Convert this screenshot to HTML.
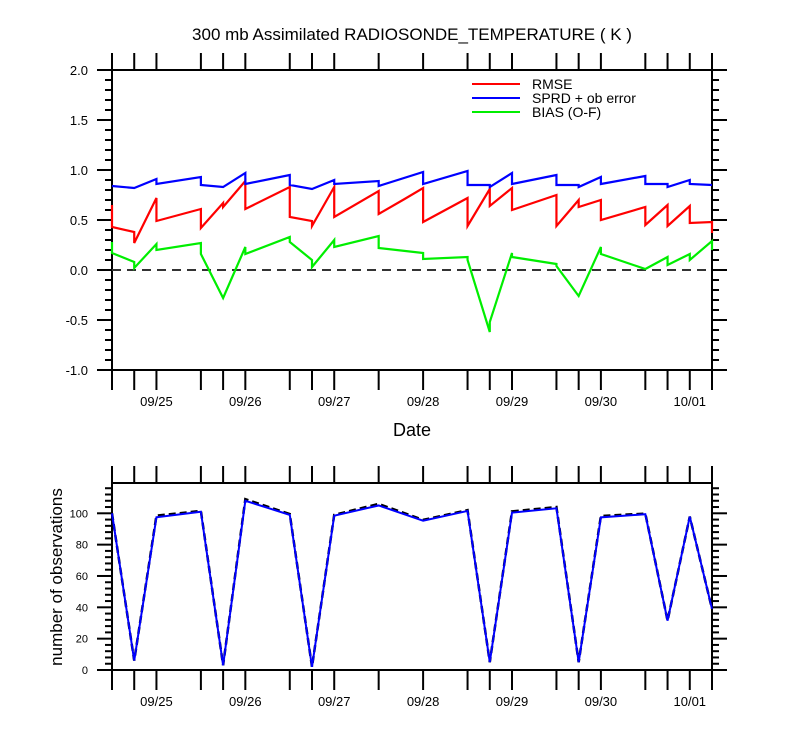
<!DOCTYPE html>
<html><head><meta charset="utf-8"><style>
body{margin:0;background:#fff}
svg{display:block;font-family:"Liberation Sans",Arial,sans-serif}
</style></head><body>
<svg id="c" width="800" height="750" xmlns="http://www.w3.org/2000/svg">
<text x="412" y="40" font-size="17" text-anchor="middle">300 mb Assimilated RADIOSONDE_TEMPERATURE ( K )</text>
<text x="412" y="436" font-size="18" text-anchor="middle">Date</text>
<text transform="translate(62,577) rotate(-90)" font-size="17" text-anchor="middle">number of observations</text>
<g font-size="14">
<line x1="472" y1="84" x2="520" y2="84" stroke="#ff0000" stroke-width="2"/><text x="532" y="89">RMSE</text>
<line x1="472" y1="98" x2="520" y2="98" stroke="#0000ff" stroke-width="2"/><text x="532" y="103">SPRD + ob error</text>
<line x1="472" y1="112" x2="520" y2="112" stroke="#00ee00" stroke-width="2"/><text x="532" y="117">BIAS (O-F)</text>
</g>
</svg>
<script>
const tickHours=[0,6,12,24,30,36,48,54,60,72,84,96,102,108,120,126,132,144,150,156,162];
const dateLabels=["09/25","09/26","09/27","09/28","09/29","09/30","10/01"];
const dateHours=[12,36,60,84,108,132,156];
const rmseH=[0,0,6,6,12,12,24,24,30,30,36,36,48,48,54,54,60,60,72,72,79,84,84,96,96,102,102,108,108,120,120,126,126,132,132,144,144,150,150,156,156,162,162];
const rmseV=[0.65,0.43,0.38,0.27,0.72,0.49,0.61,0.42,0.67,0.63,0.89,0.61,0.83,0.53,0.49,0.44,0.83,0.53,0.79,0.56,0.71,0.82,0.48,0.72,0.44,0.81,0.64,0.82,0.60,0.75,0.44,0.70,0.63,0.70,0.50,0.63,0.45,0.65,0.44,0.64,0.47,0.48,0.37];
const sprdH=[0,6,12,12,24,24,30,36,36,48,48,54,60,60,72,72,84,84,96,96,102,102,108,108,120,120,126,126,132,132,144,144,150,150,156,156,162];
const sprdV=[0.84,0.82,0.91,0.86,0.93,0.85,0.83,0.97,0.86,0.95,0.85,0.81,0.90,0.86,0.89,0.84,0.98,0.86,0.99,0.85,0.85,0.83,0.97,0.86,0.95,0.85,0.85,0.83,0.93,0.86,0.94,0.86,0.86,0.83,0.90,0.86,0.85];
const biasH=[0,0,6,6,12,12,24,24,30,36,36,48,48,54,54,60,60,72,72,84,84,96,96,102,102,108,108,120,120,126,132,132,144,150,150,156,156,162,162];
const biasV=[0.28,0.17,0.08,0.02,0.26,0.20,0.27,0.16,-0.28,0.23,0.16,0.33,0.28,0.10,0.03,0.30,0.23,0.34,0.22,0.17,0.11,0.13,0.10,-0.62,-0.52,0.17,0.13,0.06,0.04,-0.26,0.23,0.16,0.01,0.13,0.05,0.16,0.10,0.29,0.20];
const obsA=[100,6,97.5,101,3,108,99,2,98.5,105,95.3,101.5,5,100.4,103.2,5,97.4,99.4,31.5,97.9,39];
const obsB=[100,6,98.5,101.5,3,109,99.5,2,99,106,95.8,102,5,101.2,104,5,98.3,99.8,31.5,97.9,39];
const yTicksTop=["-1.0","-0.5","0.0","0.5","1.0","1.5","2.0"];
const yTicksBot=[0,20,40,60,80,100];

const NS="http://www.w3.org/2000/svg";
const svg=document.getElementById('c');
const L=112,R=712;
const xs=h=>L+h*(R-L)/162;
const yTop=v=>370-(v+1)*100;
const yBot=v=>670-v*1.567;
function el(t,a,p){const e=document.createElementNS(NS,t);for(const k in a)e.setAttribute(k,a[k]);(p||svg).appendChild(e);return e;}

function frame(top,bot,name){
  const g=el('g',{});
  
  
  el('rect',{x:L,y:top,width:R-L,height:bot-top,fill:'none',stroke:'#000','stroke-width':2},g);
  tickHours.forEach(h=>{const x=xs(h);el('line',{x1:x,y1:top,x2:x,y2:top-17,stroke:'#000','stroke-width':2},g);el('line',{x1:x,y1:bot,x2:x,y2:bot+20,stroke:'#000','stroke-width':2},g);});
  dateHours.forEach((h,i)=>{const t=el('text',{x:xs(h),y:bot+36,'font-size':13,'text-anchor':'middle'},g);t.textContent=dateLabels[i];
    
    });
  return g;
}
const gt=frame(70,370,'top-plot-frame');
for(let i=0;i<=30;i++){const v=-1+i*0.1,y=yTop(v),len=(i%5===0)?15:7;
  el('line',{x1:L,y1:y,x2:L-len,y2:y,stroke:'#000','stroke-width':2},gt);el('line',{x1:R,y1:y,x2:R+len,y2:y,stroke:'#000','stroke-width':2},gt);}
yTicksTop.forEach(s=>{const t=el('text',{x:88,y:yTop(parseFloat(s))+5,'font-size':13,'text-anchor':'end'},gt);t.textContent=s;
  
  });
const zl=el('line',{x1:L,y1:yTop(0),x2:R,y2:yTop(0),stroke:'#333','stroke-width':2,'stroke-dasharray':'9,6'});


function series(H,V,ys,color,name,dash,w){
  const p=el('polyline',{points:H.map((h,i)=>xs(h)+','+ys(V[i])).join(' '),fill:'none',stroke:color,'stroke-width':w||2.2,'stroke-linejoin':'miter'});
  if(dash)p.setAttribute('stroke-dasharray',dash);
  
  
}
series(rmseH,rmseV,yTop,'#ff0000','rmse-line');
series(sprdH,sprdV,yTop,'#0000ff','sprd-line');
series(biasH,biasV,yTop,'#00ee00','bias-line');
const gb=frame(483,670,'bottom-plot-frame');
for(let v=0;v<=116;v+=4){const y=yBot(v),len=(v%20===0)?15:7;
  el('line',{x1:L,y1:y,x2:L-len,y2:y,stroke:'#000','stroke-width':2},gb);el('line',{x1:R,y1:y,x2:R+len,y2:y,stroke:'#000','stroke-width':2},gb);}
yTicksBot.forEach(v=>{const t=el('text',{x:88,y:yBot(v)+4,'font-size':11,'text-anchor':'end'},gb);t.textContent=v;
  
  });
series(tickHours,obsB,yBot,'#000','obs-count-dashed','7,4',2.5);
series(tickHours,obsA,yBot,'#0000ff','obs-count-line',null,2);
</script>
</body></html>
